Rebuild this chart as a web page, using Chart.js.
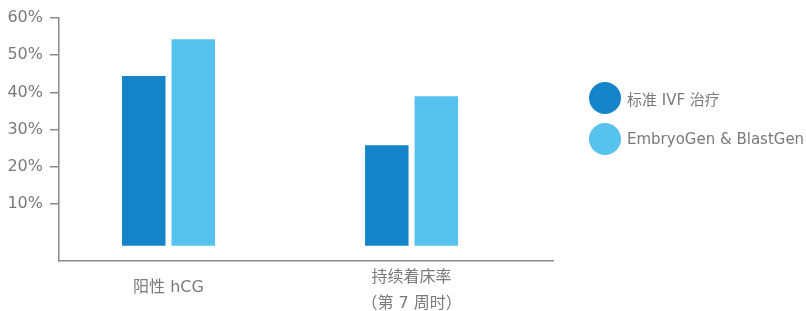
<!DOCTYPE html>
<html>
<head>
<meta charset="utf-8">
<title>IVF chart</title>
<script src="https://cdn.jsdelivr.net/npm/chart.js@4.4.0/dist/chart.umd.min.js"></script>
<style>
    html, body { margin: 0; padding: 0; background: #fff; }
    #wrap { position: relative; width: 806px; height: 311px; }
    #chart { display: block; }
    .legend { font-family: 'DejaVu Sans', 'Noto Sans CJK SC', sans-serif; font-size: 15px; color: #7a7a7a; }
    .legend-item { position: absolute; left: 589px; height: 32px; display: flex; align-items: center; white-space: nowrap; }
    .dot { width: 32px; height: 32px; border-radius: 50%; margin-right: 6px; }
</style>
</head>
<body>
<div id="wrap">
    <canvas id="chart" width="806" height="311"></canvas>
    <div class="legend" id="legend"></div>
</div>
<script>
// Datos
const categories = ['阳性 hCG', ['持续着床率', '（第 7 周时）']];
const seriesNames = ['标准 IVF 治疗', 'EmbryoGen & BlastGen'];
const standardIvf = [44.4, 25.8];
const embryoGen = [54.3, 39.0];
const yTicks = [10, 20, 30, 40, 50, 60];
const barBase = -1.2;

const colors = ['#1684c8', '#56c2ee'];
const textColor = '#7a7a7a';
const axisColor = '#8a8a8a';
const fontFamily = "'DejaVu Sans', 'Noto Sans CJK SC', sans-serif";

document.addEventListener('DOMContentLoaded', function() {
    initChart();
    initLegend();
});

function toPoints(values) {
    return values.map((v, i) => ({ x: i, y: v }));
}

function initChart() {
    const ctx = document.getElementById('chart').getContext('2d');

    new Chart(ctx, {
        type: 'bar',
        data: {
            datasets: [
                {
                    label: seriesNames[0],
                    data: toPoints(standardIvf),
                    backgroundColor: colors[0],
                    base: barBase
                },
                {
                    label: seriesNames[1],
                    data: toPoints(embryoGen),
                    backgroundColor: colors[1],
                    base: barBase
                }
            ]
        },
        options: {
            responsive: false,
            animation: false,
            categoryPercentage: 0.4074,
            barPercentage: 0.879,
            layout: {
                padding: { top: 18, right: 253, left: 0, bottom: 0 }
            },
            plugins: {
                legend: { display: false },
                tooltip: { enabled: false }
            },
            scales: {
                x: {
                    type: 'linear',
                    min: -0.4506,
                    max: 1.582,
                    offset: false,
                    afterBuildTicks: axis => {
                        axis.ticks = categories.map((_, i) => ({ value: i }));
                    },
                    afterFit: axis => { axis.height = 50; },
                    grid: { display: false },
                    border: { display: true, color: axisColor, width: 1.5 },
                    ticks: {
                        autoSkip: false,
                        maxRotation: 0,
                        padding: 9,
                        crossAlign: 'center',
                        color: textColor,
                        font: c => ({
                            family: fontFamily,
                            size: 16,
                            lineHeight: c.index === 0 ? '32px' : '26px'
                        }),
                        callback: value => categories[value]
                    }
                },
                y: {
                    min: -5.3,
                    max: 60,
                    afterBuildTicks: axis => {
                        axis.ticks = yTicks.map(v => ({ value: v }));
                    },
                    afterFit: axis => { axis.width = 59; },
                    grid: {
                        drawOnChartArea: false,
                        drawTicks: true,
                        tickLength: 9,
                        color: axisColor,
                        lineWidth: 1.5
                    },
                    border: { display: true, color: axisColor, width: 1.5 },
                    ticks: {
                        padding: 7,
                        color: textColor,
                        font: { family: fontFamily, size: 16 },
                        callback: value => value + '%'
                    }
                }
            }
        }
    });
}

function initLegend() {
    const legend = document.getElementById('legend');
    const tops = [82, 123];

    seriesNames.forEach((name, i) => {
        const item = document.createElement('div');
        item.className = 'legend-item';
        item.style.top = tops[i] + 'px';
        item.innerHTML = `<span class="dot" style="background:${colors[i]}"></span><span>${name}</span>`;
        legend.appendChild(item);
    });
}
</script>
</body>
</html>
